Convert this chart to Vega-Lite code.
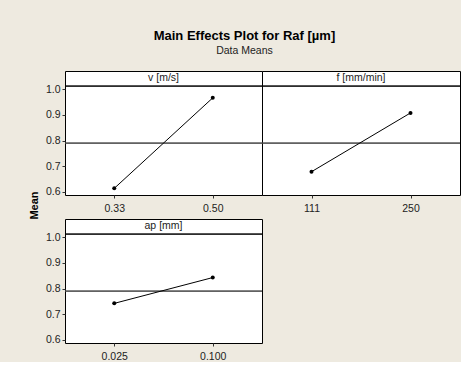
{
  "$schema": "https://vega.github.io/schema/vega-lite/v6.json",
  "padding": {"left": 27, "top": 30, "right": 0, "bottom": 0},
  "background": "#EEEAE0",
  "title": {
    "text": "Main Effects Plot for Raf [µm]",
    "subtitle": "Data Means",
    "anchor": "middle",
    "font": "Liberation Sans",
    "fontSize": 13,
    "fontWeight": "bold",
    "color": "#000000",
    "subtitleFont": "Liberation Sans",
    "subtitleFontSize": 10.5,
    "subtitleColor": "#222222",
    "subtitlePadding": 3,
    "offset": 14
  },
  "data": {
    "values": [
      {"factor": "v [m/s]", "level": "0.33", "mean": 0.613},
      {"factor": "v [m/s]", "level": "0.50", "mean": 0.967},
      {"factor": "f [mm/min]", "level": "111", "mean": 0.678},
      {"factor": "f [mm/min]", "level": "250", "mean": 0.908},
      {"factor": "ap [mm]", "level": "0.025", "mean": 0.742},
      {"factor": "ap [mm]", "level": "0.100", "mean": 0.843}
    ]
  },
  "bounds": "flush",
  "columns": 2,
  "spacing": {"row": 24, "column": 0},
  "config": {
    "view": {"stroke": "#000000", "strokeWidth": 1, "fill": "#ffffff"},
    "axis": {
      "labelFont": "Liberation Sans",
      "labelFontSize": 10.5,
      "labelColor": "#222222",
      "tickColor": "#333333",
      "tickSize": 3,
      "domain": false,
      "grid": false,
      "labelOverlap": false,
      "titleFont": "Liberation Sans"
    }
  },
  "concat": [
    {
      "width": 197,
      "height": 124,
      "title": {"text": "v [m/s]", "offset": -12.5, "font": "Liberation Sans", "fontSize": 10.5, "fontWeight": "normal", "color": "#222222", "anchor": "middle"},
      "transform": [{"filter": "datum.factor === 'v [m/s]'"}],
      "encoding": {
        "y": {"field": "mean", "type": "quantitative", "scale": {"domain": [0.587, 1.072], "nice": false, "zero": false}, "axis": {"values": [0.6, 0.7, 0.8, 0.9, 1.0], "format": ".1f", "title": "Mean", "titleFontSize": 11, "titleFontWeight": "bold", "titleColor": "#000000", "titlePadding": 6, "titleY": 134}}
      },
      "layer": [
        {"mark": {"type": "rule", "color": "#000000", "strokeWidth": 1}, "encoding": {"y": {"datum": 1.013, "type": "quantitative"}}},
        {"mark": {"type": "rule", "color": "#444444", "strokeWidth": 1}, "encoding": {"y": {"datum": 0.79, "type": "quantitative"}}},
        {"mark": {"type": "line", "color": "#000000", "strokeWidth": 1}, "encoding": {"x": {"field": "level", "type": "ordinal", "scale": {"type": "point", "padding": 0.5}, "axis": {"title": null, "labelAngle": 0, "labelPadding": 5}}}},
        {"mark": {"type": "point", "filled": true, "color": "#000000", "size": 16, "opacity": 1}, "encoding": {"x": {"field": "level", "type": "ordinal"}}}
      ]
    },
    {
      "width": 198,
      "height": 124,
      "title": {"text": "f [mm/min]", "offset": -12.5, "font": "Liberation Sans", "fontSize": 10.5, "fontWeight": "normal", "color": "#222222", "anchor": "middle"},
      "transform": [{"filter": "datum.factor === 'f [mm/min]'"}],
      "encoding": {
        "y": {"field": "mean", "type": "quantitative", "scale": {"domain": [0.587, 1.072], "nice": false, "zero": false}, "axis": null}
      },
      "layer": [
        {"mark": {"type": "rule", "color": "#000000", "strokeWidth": 1}, "encoding": {"y": {"datum": 1.013, "type": "quantitative", "axis": null}}},
        {"mark": {"type": "rule", "color": "#444444", "strokeWidth": 1}, "encoding": {"y": {"datum": 0.79, "type": "quantitative", "axis": null}}},
        {"mark": {"type": "line", "color": "#000000", "strokeWidth": 1}, "encoding": {"x": {"field": "level", "type": "ordinal", "scale": {"type": "point", "padding": 0.5}, "axis": {"title": null, "labelAngle": 0, "labelPadding": 5}}}},
        {"mark": {"type": "point", "filled": true, "color": "#000000", "size": 16, "opacity": 1}, "encoding": {"x": {"field": "level", "type": "ordinal"}}}
      ]
    },
    {
      "width": 197,
      "height": 124,
      "title": {"text": "ap [mm]", "offset": -12.5, "font": "Liberation Sans", "fontSize": 10.5, "fontWeight": "normal", "color": "#222222", "anchor": "middle"},
      "transform": [{"filter": "datum.factor === 'ap [mm]'"}],
      "encoding": {
        "y": {"field": "mean", "type": "quantitative", "scale": {"domain": [0.587, 1.072], "nice": false, "zero": false}, "axis": {"values": [0.6, 0.7, 0.8, 0.9, 1.0], "format": ".1f", "title": null}}
      },
      "layer": [
        {"mark": {"type": "rule", "color": "#000000", "strokeWidth": 1}, "encoding": {"y": {"datum": 1.013, "type": "quantitative"}}},
        {"mark": {"type": "rule", "color": "#444444", "strokeWidth": 1}, "encoding": {"y": {"datum": 0.79, "type": "quantitative"}}},
        {"mark": {"type": "line", "color": "#000000", "strokeWidth": 1}, "encoding": {"x": {"field": "level", "type": "ordinal", "scale": {"type": "point", "padding": 0.5}, "axis": {"title": null, "labelAngle": 0, "labelPadding": 5}}}},
        {"mark": {"type": "point", "filled": true, "color": "#000000", "size": 16, "opacity": 1}, "encoding": {"x": {"field": "level", "type": "ordinal"}}}
      ]
    }
  ]
}
